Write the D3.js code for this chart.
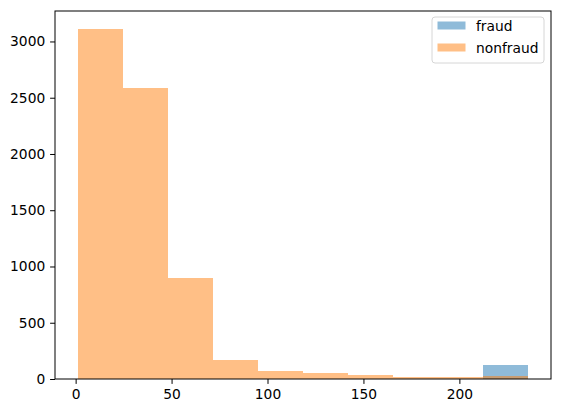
<!DOCTYPE html>
<html>
<head>
<meta charset="utf-8">
<script src="https://cdn.jsdelivr.net/npm/d3@7"></script>
<style>
  html, body { margin: 0; padding: 0; background: #fff; }
  svg { display: block; font-family: "DejaVu Sans", sans-serif; }
</style>
</head>
<body>
<svg id="chart" width="561" height="413"></svg>
<script>
// ---- data ----
const binEdges = [1, 24.5, 48, 71.5, 95, 118.5, 142, 165.5, 189, 212.5, 236];
const fraudCounts = [0, 0, 0, 0, 0, 0, 0, 0, 0, 124];
const nonfraudCounts = [3115, 2590, 895, 170, 71, 50, 36, 18, 18, 25];
const xTicks = [0, 50, 100, 150, 200];
const yTicks = [0, 500, 1000, 1500, 2000, 2500, 3000];
const seriesNames = ["fraud", "nonfraud"];
const seriesColors = ["#1f77b4", "#ff7f0e"];

(function () {
// ---- layout ----
const mLeft = 55, mRight = 551, mTop = 11, mBottom = 379;
const svg = d3.select("#chart");

const xMin = binEdges[0], xMax = binEdges[binEdges.length - 1];
const pad = (xMax - xMin) * 0.05;
const x = d3.scaleLinear().domain([xMin - pad, xMax + pad]).range([mLeft, mRight]);
const yMaxVal = d3.max(nonfraudCounts.concat(fraudCounts)) * 1.05;
const y = d3.scaleLinear().domain([0, yMaxVal]).range([mBottom, mTop]);

function drawSeries(counts, color) {
  const bins = counts.map((c, i) => ({x0: binEdges[i], x1: binEdges[i + 1], c}));
  svg.append("g").attr("shape-rendering", "crispEdges")
    .selectAll("rect").data(bins.filter(d => d.c > 0)).join("rect")
    .attr("x", d => x(d.x0))
    .attr("width", d => x(d.x1) - x(d.x0))
    .attr("y", d => y(d.c))
    .attr("height", d => y(0) - y(d.c))
    .attr("fill", color)
    .attr("fill-opacity", 0.5);
}
drawSeries(fraudCounts, seriesColors[0]);
drawSeries(nonfraudCounts, seriesColors[1]);

// axes
const xAxis = d3.axisBottom(x).tickValues(xTicks).tickSize(4.9).tickPadding(4.9).tickFormat(d3.format("d"));
const yAxis = d3.axisLeft(y).tickValues(yTicks).tickSize(4.9).tickPadding(4.9).tickFormat(d3.format("d"));
const gx = svg.append("g").attr("transform", `translate(0,${mBottom})`).call(xAxis);
const gy = svg.append("g").attr("transform", `translate(${mLeft},0)`).call(yAxis);
[gx, gy].forEach(g => {
  g.select(".domain").remove();
  g.selectAll(".tick line").attr("stroke", "#000").attr("stroke-width", 1);
  g.selectAll(".tick text").attr("fill", "#000").style("font-size", "13.8px").style("font-family", "DejaVu Sans, sans-serif");
});

// spines
svg.append("rect")
  .attr("x", mLeft).attr("y", mTop)
  .attr("width", mRight - mLeft).attr("height", mBottom - mTop)
  .attr("fill", "none").attr("stroke", "#000").attr("stroke-width", 1);

// legend
const lg = svg.append("g");
lg.append("rect")
  .attr("x", 432).attr("y", 17).attr("width", 112).attr("height", 46)
  .attr("rx", 3).attr("fill", "#fff").attr("fill-opacity", 0.8)
  .attr("stroke", "#d6d6d6").attr("stroke-width", 1);
seriesNames.forEach((name, i) => {
  const cy = 25.5 + i * 22;
  lg.append("rect")
    .attr("x", 437.5).attr("y", cy - 4).attr("width", 28).attr("height", 8)
    .attr("fill", seriesColors[i]).attr("fill-opacity", 0.5);
  lg.append("text")
    .attr("x", 476).attr("y", cy)
    .attr("dominant-baseline", "central")
    .style("font-size", "13.8px")
    .attr("fill", "#000")
    .text(name);
});
})();
</script>
</body>
</html>
